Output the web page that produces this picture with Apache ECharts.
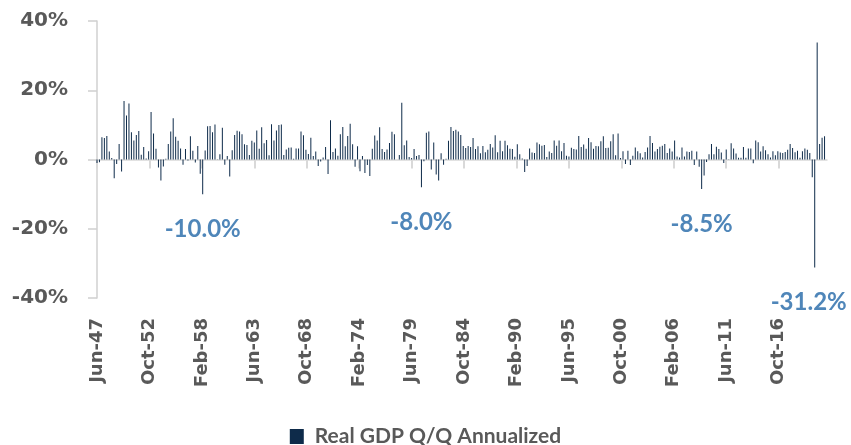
<!DOCTYPE html>
<html>
<head>
<meta charset="utf-8">
<script src="https://cdn.jsdelivr.net/npm/echarts@6/dist/echarts.min.js"></script>
<style>
html,body{margin:0;padding:0;background:#fff;}
#chart{width:851px;height:445px;}
</style>
</head>
<body>
<div id="chart"></div>
<script>
// Quarterly real GDP growth, Q/Q annualized (%), first quarter Jun-47, last Jun-21
var startYear = 1947;
var startMonth = 6; // June
var gdpValues = [
  -1.0, -0.8, 6.4,
  6.2, 6.8, 2.3, 0.4,
  -5.4, -1.3, 4.5, -3.5,
  16.9, 12.7, 16.2, 7.9,
  5.5, 7.1, 8.2, 1.4,
  3.6, 0.3, 2.4, 13.7,
  7.5, 3.1, -2.3, -6.1,
  -2.0, 0.2, 4.5, 8.1,
  11.9, 6.6, 5.4, 3.2,
  -1.5, 3.0, -0.3, 6.7,
  2.5, -0.9, 3.9, -4.1,
  -10.0, 2.6, 9.6, 9.7,
  7.9, 10.1, -0.1, 1.5,
  9.2, -1.5, 1.0, -4.9,
  2.7, 7.1, 8.3, 8.1,
  7.3, 4.4, 4.2, 1.3,
  5.4, 4.9, 8.4, 3.1,
  9.3, 4.7, 5.6, 1.2,
  10.2, 5.5, 8.4, 10.0,
  10.1, 1.3, 2.9, 3.4,
  3.5, 0.2, 3.2, 3.2,
  8.1, 7.0, 2.8, 1.6,
  6.3, 1.0, 2.3, -1.9,
  -0.6, 0.6, 3.6, -4.2,
  11.3, 2.2, 3.2, 1.1,
  7.3, 9.4, 3.8, 6.8,
  10.3, 4.4, -2.1, 3.8,
  -3.4, 1.0, -3.9, -1.6,
  -4.8, 3.1, 6.9, 5.5,
  9.3, 3.0, 2.2, 2.9,
  4.8, 8.0, 7.3, 0.0,
  1.3, 16.4, 4.1, 5.5,
  0.7, 0.4, 3.0, 1.0,
  1.3, -8.0, -0.5, 7.7,
  8.1, -2.9, 4.9, -4.3,
  -6.1, 1.8, -1.5, 0.2,
  5.4, 9.4, 8.2, 8.6,
  8.1, 7.1, 3.9, 3.3,
  3.9, 3.6, 6.2, 3.0,
  3.8, 1.8, 3.9, 2.1,
  2.8, 4.5, 3.5, 7.0,
  2.1, 5.4, 2.4, 5.4,
  4.1, 3.1, 3.0, 0.8,
  4.4, 1.5, 0.3, -3.6,
  -1.9, 3.2, 2.0, 1.9,
  4.9, 4.4, 4.0, 4.2,
  0.7, 2.3, 1.9, 5.5,
  4.0, 5.5, 2.4, 4.8,
  1.1, 0.9, 3.4, 3.0,
  2.9, 6.8, 3.6, 4.3,
  3.1, 6.2, 5.0, 3.1,
  3.9, 3.8, 5.3, 6.7,
  3.3, 3.4, 5.3, 7.3,
  1.2, 7.5, 0.4, 2.4,
  -1.3, 2.5, -1.6, 1.1,
  3.5, 2.4, 1.8, 0.6,
  2.2, 3.5, 6.8, 4.8,
  2.3, 3.0, 3.7, 4.0,
  4.5, 1.9, 3.2, 2.3,
  5.5, 0.9, 0.6, 3.5,
  0.9, 2.3, 2.2, 2.5,
  -1.6, 2.3, -2.1, -8.5,
  -4.6, -0.7, 1.5, 4.5,
  1.5, 3.7, 3.0, 2.0,
  -1.0, 2.9, -0.1, 4.7,
  3.2, 1.7, 0.5, 0.5,
  3.6, 0.5, 3.2, 3.2,
  -1.1, 5.5, 5.0, 2.3,
  3.8, 2.7, 1.5, 0.6,
  2.4, 1.2, 2.4, 2.0,
  1.9, 2.2, 2.8, 4.5,
  3.3, 2.1, 2.5, 0.5,
  2.4, 3.2, 2.8, 1.9,
  -5.1, -31.2, 33.8, 4.5,
  6.3, 6.7
];
// quarters (index into gdpValues) carrying a value label
var labelledQuarters = [43, 132, 246, 292];
var xTickLabels = ['Jun-47','Oct-52','Feb-58','Jun-63','Oct-68','Feb-74','Jun-79','Oct-84','Feb-90','Jun-95','Oct-00','Feb-06','Jun-11','Oct-16'];
var xTickStepMonths = 64;
var yTicks = [-40, -20, 0, 20, 40];
var seriesName = 'Real GDP Q/Q Annualized';

var tickValues = xTickLabels.map(function (_, i) { return i * xTickStepMonths; });
var data = gdpValues.map(function (v, i) {
  var item = { value: [i * 3, v] };
  if (labelledQuarters.indexOf(i) >= 0) {
    item.label = {
      show: true,
      position: 'bottom',
      distance: 23,
      offset: (i === 292 ? [-6, 0] : [0, 0]),
      formatter: v.toFixed(1) + '%',
      color: '#4f86b9',
      fontFamily: 'Lato',
      fontWeight: 'bold',
      fontSize: 24
    };
  }
  return item;
});

var chart = echarts.init(document.getElementById('chart'), null, { renderer: 'canvas' });
chart.setOption({
  animation: false,
  backgroundColor: '#ffffff',
  grid: { left: 97, right: 24, top: 21, bottom: 147, containLabel: false },
  legend: {
    data: [seriesName],
    top: 421,
    left: 'center',
    icon: 'rect',
    itemWidth: 14,
    itemHeight: 15,
    textStyle: { fontFamily: 'Lato', fontWeight: 'bold', fontSize: 21, color: '#595959', padding: [0, 0, 0, 6] }
  },
  xAxis: [
    {
      type: 'value',
      min: 0,
      max: 891,
      axisLine: { show: true, onZero: true, lineStyle: { color: '#d9d9d9', width: 1.5 } },
      axisTick: { show: true, length: 9, inside: false, customValues: tickValues, lineStyle: { color: '#d9d9d9', width: 2 } },
      axisLabel: { show: false },
      splitLine: { show: false }
    },
    {
      type: 'value',
      min: 0,
      max: 891,
      position: 'bottom',
      axisLine: { show: false, onZero: false },
      axisTick: { show: false },
      splitLine: { show: false },
      axisLabel: {
        show: true,
        rotate: 90,
        margin: 20,
        customValues: tickValues,
        fontFamily: 'DejaVu Sans',
        fontWeight: 'bold',
        fontSize: 18,
        color: '#595959',
        formatter: function (v) { return xTickLabels[Math.round(v / xTickStepMonths)] || ''; }
      }
    }
  ],
  yAxis: {
    type: 'value',
    min: yTicks[0],
    max: yTicks[yTicks.length - 1],
    interval: 20,
    axisLine: { show: true, lineStyle: { color: '#d0d0d0', width: 1.5 } },
    axisTick: { show: true, length: 9, lineStyle: { color: '#d0d0d0', width: 1.5 } },
    splitLine: { show: false },
    axisLabel: {
      margin: 29,
      formatter: '{value}%',
      fontFamily: 'DejaVu Sans',
      fontWeight: 'bold',
      fontSize: 20,
      color: '#595959'
    }
  },
  series: [
    {
      name: seriesName,
      type: 'bar',
      xAxisIndex: 0,
      barWidth: 0.8,
      itemStyle: { color: '#0e2b4a' },
      data: data
    }
  ]
});
</script>
</body>
</html>
